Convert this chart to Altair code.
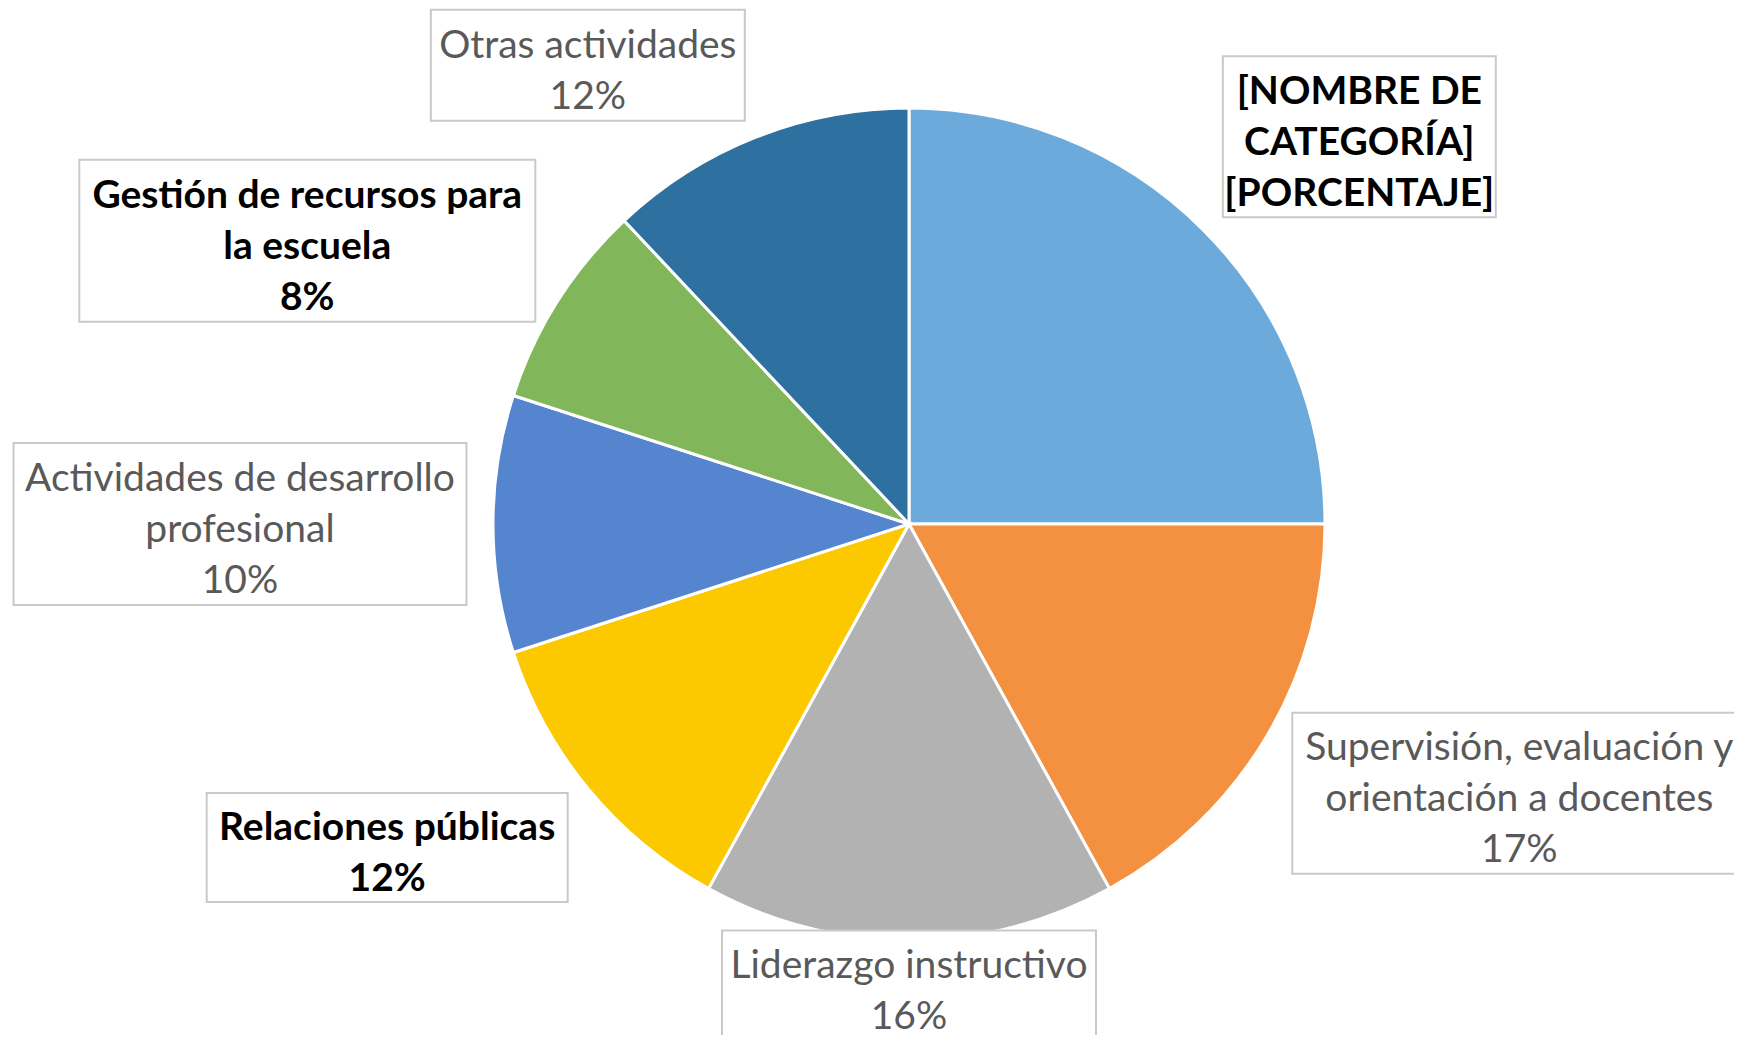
import altair as alt
import pandas as pd

# ---- data ----
categories = [
    "[NOMBRE DE CATEGORÍA]",
    "Supervisión, evaluación y orientación a docentes",
    "Liderazgo instructivo",
    "Relaciones públicas",
    "Actividades de desarrollo profesional",
    "Gestión de recursos para la escuela",
    "Otras actividades",
]
values = [25, 17, 16, 12, 10, 8, 12]
label_text = [
    "[NOMBRE DE\nCATEGORÍA]\n[PORCENTAJE]",
    "Supervisión, evaluación y\norientación a docentes\n17%",
    "Liderazgo instructivo\n16%",
    "Relaciones públicas\n12%",
    "Actividades de desarrollo\nprofesional\n10%",
    "Gestión de recursos para\nla escuela\n8%",
    "Otras actividades\n12%",
]

# ---- styles / layout ----
colors = ["#6CAADB", "#F39140", "#B2B2B2", "#FCC800", "#5585CE", "#82B65A", "#2E71A1"]
label_bold = [True, False, False, True, False, True, False]
label_angle_shift = [4.3, -6.8, 0.0, 7.8, 0.0, -7.2, -13.4]   # degrees from slice middle
label_radius = [594, 667, 461, 614, 669, 665, 560]            # px from pie centre
box_w = [273, 454, 374, 361, 453, 456, 314]
box_h = [161, 161, 109, 109, 162, 162, 111]

CX, CY, R = 901, 516, 416
W, H = 1726, 1027
LH = 51

df = pd.DataFrame({
    "idx": list(range(len(categories))),
    "category": categories,
    "value": values,
    "label": label_text,
    "bold": label_bold,
    "shift": label_angle_shift,
    "r": label_radius,
    "bw": box_w,
    "bh": box_h,
})

base = alt.Chart(df)

pie = base.mark_arc(outerRadius=R, stroke="white", strokeWidth=3).encode(
    theta=alt.Theta("value:Q", stack=True),
    order=alt.Order("idx:Q"),
    color=alt.Color("category:N", scale=alt.Scale(domain=categories, range=colors), legend=None),
    x=alt.value(CX),
    y=alt.value(CY),
)

pos = base.transform_window(
    cum="sum(value)", sort=[alt.SortField("idx")], frame=[None, 0]
).transform_joinaggregate(
    total="sum(value)"
).transform_calculate(
    ang="(datum.cum - datum.value/2)/datum.total*2*PI + datum.shift*PI/180",
    nl="length(split(datum.label, '\\n'))",
).transform_calculate(
    lx=f"{CX} + datum.r*sin(datum.ang)",
    ly=f"{CY} - datum.r*cos(datum.ang)",
).transform_calculate(
    x0="datum.lx - datum.bw/2",
    x1="datum.lx + datum.bw/2",
    y0="datum.ly - datum.bh/2",
    y1="datum.ly + datum.bh/2",
    ty=f"datum.ly - (datum.nl - 1)*{LH}/2",
)

boxes = pos.mark_rect(fill="white", stroke="#C9C9C9", strokeWidth=2).encode(
    x=alt.X("x0:Q", scale=None, axis=None),
    x2="x1:Q",
    y=alt.Y("y0:Q", scale=None, axis=None),
    y2="y1:Q",
)

font = "Lato"
txt_normal = pos.transform_filter("!datum.bold").mark_text(
    font=font, fontSize=39, lineHeight=LH, lineBreak="\n", color="#595959",
    align="center", baseline="middle", dy=6,
).encode(
    x=alt.X("lx:Q", scale=None, axis=None),
    y=alt.Y("ty:Q", scale=None, axis=None),
    text="label:N",
)
txt_bold = pos.transform_filter("datum.bold").mark_text(
    font=font, fontSize=39, lineHeight=LH, lineBreak="\n", color="#000000",
    fontWeight="bold", align="center", baseline="middle", dy=6,
).encode(
    x=alt.X("lx:Q", scale=None, axis=None),
    y=alt.Y("ty:Q", scale=None, axis=None),
    text="label:N",
)

chart = alt.layer(pie, boxes, txt_normal, txt_bold).properties(
    width=W, height=H, padding=0, autosize="none", background="white"
).configure_view(stroke=None)

chart.save("out.html", embed_options={"renderer": "svg", "actions": False})
